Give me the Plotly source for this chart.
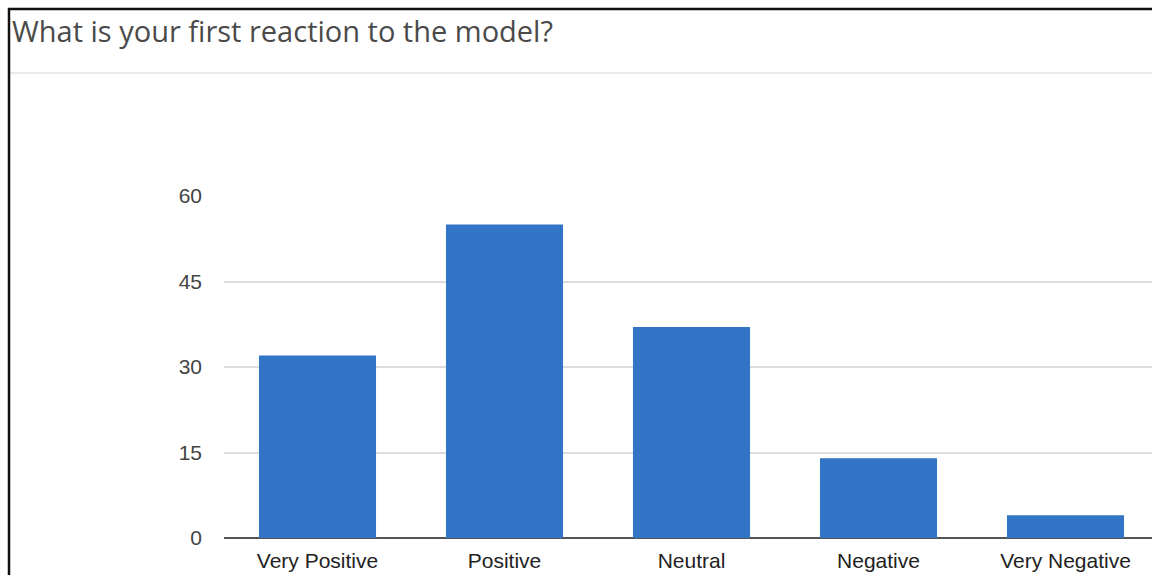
import plotly.graph_objects as go

# ---- data ----
categories = ["Very Positive", "Positive", "Neutral", "Negative", "Very Negative"]
responses = [32, 55, 37, 14, 4]
y_ticks = [0, 15, 30, 45, 60]
title_text = "What is your first reaction to the model?"

# ---- layout geometry (pixels) ----
W, H = 1152, 575
L, R, T, B = 224, 0, 196, 37
plot_w = W - L - R
plot_h = H - T - B


def px_x(px):
    return (px - L) / plot_w


def px_y(py):
    return (H - B - py) / plot_h


bar_color = "#3274c6"

fig = go.Figure(
    go.Bar(
        x=categories,
        y=responses,
        marker=dict(color=bar_color, line=dict(width=0)),
        hoverinfo="x+y",
    )
)

fig.update_layout(
    width=W,
    height=H,
    margin=dict(l=L, r=R, t=T, b=B, pad=0),
    paper_bgcolor="white",
    plot_bgcolor="white",
    bargap=0.374,
    showlegend=False,
    title=dict(
        text=title_text,
        x=12 / W,
        xanchor="left",
        xref="container",
        y=1 - 32 / H,
        yanchor="middle",
        yref="container",
        font=dict(family="Open Sans, Segoe UI, sans-serif", size=29, color="#4a4a4a"),
    ),
    font=dict(family="Liberation Sans, Arial, sans-serif"),
)

fig.update_xaxes(
    range=[-0.5, 4.5 - 7 / 187],
    showgrid=False,
    showline=False,
    zeroline=False,
    ticks="outside",
    ticklen=4,
    tickcolor="rgba(0,0,0,0)",
    tickfont=dict(family="Liberation Sans, Arial, sans-serif", size=21, color="#222222"),
    fixedrange=True,
)

fig.update_yaxes(
    range=[0, 60],
    tickvals=y_ticks,
    ticktext=[str(v) for v in y_ticks],
    showgrid=True,
    gridcolor="#dcdcdc",
    gridwidth=1.5,
    zeroline=True,
    zerolinecolor="#555555",
    zerolinewidth=2,
    showline=False,
    ticks="",
    ticklabelstandoff=21,
    tickfont=dict(family="Liberation Sans, Arial, sans-serif", size=21, color="#444444"),
    fixedrange=True,
)

shapes = [
    # separator under title
    dict(type="line", xref="paper", yref="paper",
         x0=px_x(10), x1=px_x(W), y0=px_y(73), y1=px_y(73),
         line=dict(color="#e2e2e2", width=1.5)),
    # outer frame: top
    dict(type="line", xref="paper", yref="paper",
         x0=px_x(8), x1=px_x(W), y0=px_y(9), y1=px_y(9),
         line=dict(color="#111111", width=2.5)),
    # outer frame: left
    dict(type="line", xref="paper", yref="paper",
         x0=px_x(9), x1=px_x(9), y0=px_y(8), y1=px_y(H),
         line=dict(color="#111111", width=2.5)),
]
fig.update_layout(shapes=shapes)

fig.write_html(
    "out.html",
    config={"displayModeBar": False},
    post_script="document.body.style.margin='0';document.body.style.overflow='hidden';",
)
